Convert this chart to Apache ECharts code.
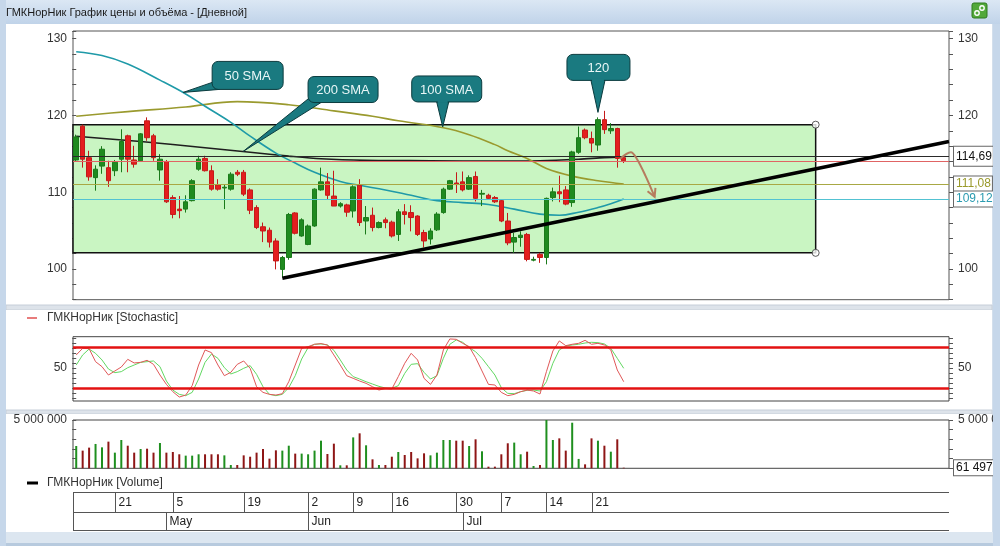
<!DOCTYPE html>
<html>
<head>
<meta charset="utf-8">
<script src="https://cdn.jsdelivr.net/npm/echarts@6/dist/echarts.min.js"></script>
<style>
  html, body { margin: 0; padding: 0; background: #d3dfec; }
  #chart { width: 1000px; height: 546px; }
</style>
</head>
<body>
<div id="chart"></div>
<script>
// ---- price candles (daily) ----
var opens = [114.2,118.6,114.5,111.9,113.4,113.2,112.8,114.3,117.35,114.2,
  114.1,119.3,117.35,112.9,114.0,109.3,107.8,107.8,108.9,113.0,
  114.4,112.8,110.95,110.55,110.4,112.6,112.6,110.3,108.0,105.5,
  105.05,103.65,99.95,101.5,107.3,104.3,103.2,105.6,110.3,111.35,
  109.5,108.2,108.35,107.55,110.9,106.25,107.0,105.4,106.4,106.1,
  104.5,107.45,107.35,106.9,104.75,103.9,105.1,107.35,110.4,111.2,
  111.35,110.4,112.05,109.75,109.6,109.3,108.9,106.25,103.5,104.1,
  104.5,101.15,101.9,101.5,109.3,110.05,110.3,108.65,115.2,118.1,
  117.0,116.15,119.45,118.0,118.3,114.5];
var closes = [117.2,114.3,112.0,113.0,115.6,111.5,113.9,116.6,114.3,113.65,
  117.6,117.1,114.5,114.3,108.75,107.1,107.6,108.75,111.5,114.3,
  112.8,110.4,110.4,110.65,112.35,112.35,109.75,107.65,105.4,104.95,
  103.5,101.05,101.5,107.1,104.65,106.4,105.6,110.4,111.35,109.6,
  108.2,108.5,107.4,110.7,106.05,106.7,105.4,106.05,106.05,104.3,
  107.45,107.1,106.7,104.5,103.65,104.95,107.15,110.4,111.5,111.0,
  110.3,111.9,109.2,109.85,109.2,108.75,106.25,103.4,104.1,104.4,
  101.25,101.25,101.5,109.2,110.05,109.8,108.45,115.25,117.1,117.1,
  116.4,119.45,118.15,118.3,114.4,114.1];
var lows = [114.0,113.2,111.5,110.2,112.4,110.7,112.1,112.6,112.6,113.2,
  114.0,116.7,114.1,111.5,108.6,106.6,106.6,107.35,108.8,112.8,
  112.7,110.2,110.2,107.8,110.2,112.1,109.5,107.15,105.2,103.5,
  102.8,99.95,98.9,101.2,104.5,104.2,103.1,105.5,110.2,109.0,
  108.2,108.0,106.8,106.7,105.6,104.5,104.9,105.3,105.3,104.1,
  103.65,105.8,104.9,104.3,102.8,103.2,104.95,107.2,110.3,109.9,
  110.1,110.3,108.8,108.2,109.1,108.6,106.1,103.1,102.1,102.9,
  101.0,101.0,100.8,100.6,108.8,108.7,108.3,108.1,115.0,116.9,
  115.2,115.4,117.6,117.6,113.2,113.8];
var highs = [117.5,118.8,115.4,113.5,116.0,114.1,114.2,118.2,117.5,116.05,
  117.7,119.75,117.6,114.96,114.2,109.6,109.5,109.6,111.7,114.75,
  114.75,113.5,111.7,111.0,112.6,112.9,112.9,110.5,108.3,106.05,
  105.4,104.0,101.7,107.3,107.4,106.6,105.8,110.5,113.2,112.5,
  112.8,108.7,108.5,110.9,111.7,108.2,108.0,106.2,106.7,106.3,
  107.8,108.45,108.3,107.0,105.1,105.3,107.4,110.6,111.6,112.6,
  112.7,112.2,112.7,110.3,109.8,109.5,109.1,107.3,104.7,104.9,
  104.7,101.6,102.1,109.3,110.6,112.15,110.8,115.4,118.55,118.3,
  117.9,119.75,120.6,119.0,118.4,114.8];

// ---- volume ----
var volumes = [2310000,1830000,2140000,2520000,2170000,2760000,1620000,2930000,2340000,1620000,
  2000000,2030000,1620000,2620000,1620000,1690000,1450000,1310000,1310000,1450000,
  1450000,1450000,1450000,1340000,340000,340000,1340000,1200000,1620000,2000000,
  1000000,1860000,1830000,2340000,1520000,1520000,1450000,1830000,2860000,1480000,
  2550000,310000,310000,3200000,3620000,2380000,930000,340000,340000,1200000,
  1690000,1380000,1690000,1030000,1550000,1340000,1620000,2930000,2930000,2860000,
  2860000,2310000,3000000,1760000,170000,170000,1450000,2590000,2660000,1450000,
  1720000,240000,340000,5000000,2930000,3100000,1830000,4720000,970000,410000,
  3100000,2860000,2340000,1720000,3000000,61497];

// ---- stochastic %K / %D ----
var stochK = [69.3,79.0,78.5,59.5,52.2,40.0,45.9,51.7,62.9,57.6,
  58.5,61.5,55.6,40.0,26.3,15.6,7.8,10.7,24.4,54.6,
  76.6,72.7,54.6,39.0,43.9,55.6,60.5,49.8,22.9,14.6,
  11.7,10.7,12.7,30.2,54.6,79.0,81.5,84.9,85.9,83.9,
  69.3,54.6,39.0,35.1,31.2,27.8,22.9,18.0,20.5,19.5,
  37.6,57.1,71.7,62.0,35.1,26.3,40.0,76.6,92.7,92.2,
  86.3,81.5,65.4,45.9,26.3,25.4,14.6,9.8,11.7,15.6,
  18.0,16.6,12.2,44.9,75.1,89.8,82.9,84.9,86.3,90.7,
  84.9,86.3,83.9,76.6,47.3,30.2];
var stochD = [54.6,69.3,78.0,71.7,62.0,48.8,43.4,44.9,50.7,54.6,
  58.5,59.5,60.5,52.2,31.2,18.0,11.7,9.8,14.6,34.1,
  58.5,70.7,64.4,50.7,41.5,44.9,49.8,53.7,41.0,22.9,
  11.7,9.8,11.7,21.5,39.0,63.4,80.0,84.9,85.4,83.9,
  76.1,62.0,47.3,37.6,34.1,30.2,26.8,23.4,21.0,20.5,
  24.4,42.4,55.6,56.6,43.9,34.1,39.0,64.4,84.9,91.2,
  87.8,80.0,74.1,64.4,52.2,40.0,21.5,13.2,12.7,15.6,
  17.6,18.0,16.6,30.2,57.1,76.6,82.4,83.9,84.9,86.8,
  87.8,87.3,85.4,79.0,64.4,49.8];

// ---- moving averages, [candle index, value] ----
var sma50 = [[0,128.3],[4,127.8],[8,126.7],[13,124.6],[17,122.8],[20,121.2],[24,119.1],
  [27,117.3],[31,115.1],[34,113.8],[37,112.6],[41,111.4],[44,110.9],[48,110.3],[52,109.6],
  [56,108.9],[60,108.65],[64,108.4],[68,107.8],[72,107.15],[75,107.0],[78,107.4],[81,108.0],
  [83,108.5],[85,109.12]];
var sma100 = [[0,119.9],[8,120.5],[17,121.1],[25,121.8],[33,121.4],[40,120.6],[46,119.9],
  [50,119.3],[57,118.4],[61,117.5],[65,116.2],[67,115.4],[70,114.4],[73,113.1],[77,112.1],
  [81,111.5],[85,111.08]];
var sma200 = [[0,117.3],[10,116.6],[20,115.8],[27,115.2],[33,114.7],[38,114.35],[45,114.15],
  [55,114.1],[65,114.05],[72,114.1],[78,114.3],[82,114.5],[85,114.6]];

// ---- time scale labels ----
var dayIdx = [6,15,26,36,43,49,59,66,73,80];
var dayLabels = ['21','5','19','2','9','16','30','7','14','21'];
var monthIdx = [14,36,60];
var monthLabels = ['May','Jun','Jul'];

// ---- drawn annotations ----
var levelValues = [114.69, 114.05, 111.08, 109.12];
var levelTexts = ['114,69', '', '111,08', '109,12'];
var levelColors = ['#2a2a2a', '#e06464', '#a8a844', '#52c2d2'];
var levelTextColors = ['#111', '', '#9a9a2a', '#2b9bb0'];
var rectTop = 118.8, rectBottom = 102.1, rectRight = 114.8;
var trendStart = [32, 98.8], trendEnd = [135.5, 116.6];
var arrowPath = [[84.4,114.33],[86.1,115.2],[87.0,114.4],[88.4,112.1],[89.8,109.4]];
var callouts = [
  { text: '50 SMA',  at: [16.6, 123.0], box: [29, -31, 71, 28], tail: [[0, 21], [7, 28]] },
  { text: '200 SMA', at: [25.9, 115.3], box: [65, -75, 70, 26], tail: [[3, 20], [13, 26]] },
  { text: '100 SMA', at: [56.9, 118.5], box: [-31, -51, 70, 26], tail: [[25, 26], [37, 26]] },
  { text: '120',     at: [81, 120.4],   box: [-31, -58, 63, 26], tail: [[24, 26], [38, 26]] }
];

var FONT = 'Liberation Sans';
var candleData = opens.map(function (o, i) { return [i, o, closes[i], lows[i], highs[i]]; });
var volData = volumes.map(function (v, i) {
  return { value: [i, v], itemStyle: { color: closes[i] >= opens[i] ? '#1f8f1f' : '#8e1616' } };
});

function xAx(g) {
  return { type: 'value', gridIndex: g, min: -0.5, max: 135.5, show: false };
}
function yAx(g, pos, cfg) {
  var a = {
    type: 'value', gridIndex: g, position: pos, min: cfg.min, max: cfg.max,
    axisLine: { show: false },
    axisTick: { show: true, length: 4, lineStyle: { color: '#555' } },
    axisLabel: { margin: pos === 'left' ? 6 : 9, color: '#333', fontSize: 12, fontFamily: FONT,
      formatter: cfg.fmt },
    splitLine: { show: false }
  };
  if (cfg.interval) a.interval = cfg.interval;
  if (cfg.ticks) { a.axisTick.customValues = cfg.ticks; a.axisLabel.customValues = cfg.labels; }
  return a;
}
var mainY = { min: 96, max: 131, interval: 2, fmt: function (v) { return v % 10 === 0 ? String(v) : ''; } };
var stochY = { min: 2, max: 96, ticks: [6,13,21,28,35,43,50,57,65,72,79,86,94], labels: [50],
  fmt: function (v) { return v === 50 ? '50' : ''; } };
var volY = { min: 0, max: 5000000, interval: 1000000,
  fmt: function (v) { return v === 5000000 ? '5 000 000' : ''; } };

var boxLabel = {
  show: true, position: 'end', distance: 5, fontSize: 12, fontFamily: FONT,
  backgroundColor: '#fff', borderColor: '#666', borderWidth: 1, padding: [2, 1, 1, 2]
};
var levelLines = levelValues.map(function (v, i) {
  return {
    yAxis: v,
    lineStyle: { color: levelColors[i], width: 1, type: 'solid' },
    label: levelTexts[i] ? Object.assign({}, boxLabel, {
      formatter: levelTexts[i], color: levelTextColors[i],
      padding: i === 0 ? [4, 1, 3, 2] : [2, 1, 1, 2]
    }) : { show: false }
  };
});

var gridBase = { left: 73, width: 876, show: true, borderWidth: 1, outerBoundsMode: 'none', containLabel: false };
var option = {
  animation: false,
  backgroundColor: '#d3dfec',
  grid: [
    Object.assign({}, gridBase, { top: 31, height: 268.7, borderColor: '#555' }),
    Object.assign({}, gridBase, { top: 336.7, height: 64.3, borderColor: '#444' }),
    Object.assign({}, gridBase, { top: 420, height: 48.3, borderColor: '#444' })
  ],
  xAxis: [xAx(0), xAx(1), xAx(2)],
  yAxis: [yAx(0, 'left', mainY), yAx(0, 'right', mainY),
          yAx(1, 'left', stochY), yAx(1, 'right', stochY),
          yAx(2, 'left', volY), yAx(2, 'right', volY)],
  series: [
    {
      type: 'line', xAxisIndex: 0, yAxisIndex: 0, data: [], z: 1, silent: true,
      markArea: {
        silent: true,
        itemStyle: { color: '#c9f5c2', borderColor: '#111', borderWidth: 1.5 },
        data: [[{ coord: [-0.5, rectTop] }, { coord: [rectRight, rectBottom] }]]
      },
      markLine: { silent: true, symbol: ['none', 'none'], data: levelLines }
    },
    { type: 'line', xAxisIndex: 0, yAxisIndex: 0, data: sma200, smooth: 0.3, showSymbol: false, z: 2,
      lineStyle: { color: '#1e1e1e', width: 1.6 } },
    { type: 'line', xAxisIndex: 0, yAxisIndex: 0, data: sma100, smooth: 0.4, showSymbol: false, z: 2,
      lineStyle: { color: '#9a9a2e', width: 1.6 } },
    { type: 'line', xAxisIndex: 0, yAxisIndex: 0, data: sma50, smooth: 0.4, showSymbol: false, z: 2,
      lineStyle: { color: '#1f9aa8', width: 1.6 } },
    {
      type: 'candlestick', xAxisIndex: 0, yAxisIndex: 0, data: candleData, z: 3,
      encode: { x: 0, y: [1, 2, 3, 4] }, barWidth: 5,
      itemStyle: { color: '#1f8a1f', color0: '#e41e1e', borderColor: '#1a7a1a', borderColor0: '#c41a1a', borderWidth: 1 }
    },
    {
      type: 'line', xAxisIndex: 0, yAxisIndex: 0, data: [], z: 4, silent: true,
      markLine: {
        silent: true, symbol: ['none', 'none'], label: { show: false },
        lineStyle: { color: '#000', width: 3.5, type: 'solid' },
        data: [[{ coord: trendStart }, { coord: trendEnd }]]
      }
    },
    {
      type: 'scatter', xAxisIndex: 0, yAxisIndex: 0, z: 6, symbolSize: 7, silent: true,
      data: [[rectRight, rectTop], [rectRight, rectBottom]],
      itemStyle: { color: '#fff', borderColor: '#333', borderWidth: 1 }
    },
    { type: 'line', xAxisIndex: 1, yAxisIndex: 2, showSymbol: false, z: 2,
      data: stochD.map(function (v, i) { return [i, v]; }),
      lineStyle: { color: '#62d862', width: 1 } },
    { type: 'line', xAxisIndex: 1, yAxisIndex: 2, showSymbol: false, z: 3,
      data: stochK.map(function (v, i) { return [i, v]; }),
      lineStyle: { color: '#e05858', width: 1 },
      markLine: { silent: true, symbol: ['none', 'none'], label: { show: false },
        lineStyle: { color: '#e31212', width: 2.5, type: 'solid' },
        data: [{ yAxis: 80 }, { yAxis: 20 }] } },
    { type: 'bar', xAxisIndex: 2, yAxisIndex: 4, data: volData, barWidth: 2, z: 2,
      markLine: { silent: true, symbol: ['none', 'none'],
        data: [{ yAxis: volumes[volumes.length - 1],
          lineStyle: { color: 'rgba(0,0,0,0)', width: 1 },
          label: Object.assign({}, boxLabel, { formatter: '61 497', color: '#111' }) }] } }
  ]
};

var chart = echarts.init(document.getElementById('chart'));
chart.setOption(option);

function P(g, x, y) { return chart.convertToPixel({ gridIndex: g }, [x, y]); }

var gr = [];
// window chrome
gr.push({ type: 'rect', z: -20, shape: { x: 0, y: 0, width: 1000, height: 24 },
  style: { fill: { type: 'linear', x: 0, y: 0, x2: 0, y2: 1,
    colorStops: [{ offset: 0, color: '#dbe7f4' }, { offset: 1, color: '#c0d3e9' }] } } });
gr.push({ type: 'text', z: 10, style: { x: 6, y: 13, text: 'ГМКНорНик График цены и объёма - [Дневной]',
  fill: '#1a1a1a', font: '11px "Liberation Sans"', verticalAlign: 'middle' } });
gr.push({ type: 'rect', z: 10, shape: { x: 972, y: 3, width: 15, height: 15, r: 2 },
  style: { fill: '#52a83a', stroke: '#2e7a1f', lineWidth: 1 } });
gr.push({ type: 'circle', z: 11, shape: { cx: 977, cy: 13, r: 2.2 }, style: { fill: 'none', stroke: '#fff', lineWidth: 1.4 } });
gr.push({ type: 'circle', z: 11, shape: { cx: 982, cy: 8, r: 2.2 }, style: { fill: 'none', stroke: '#fff', lineWidth: 1.4 } });
gr.push({ type: 'rect', z: -20, shape: { x: 6, y: 24, width: 986, height: 281 }, style: { fill: '#fff' } });
gr.push({ type: 'rect', z: -20, shape: { x: 6, y: 305, width: 986, height: 5 }, style: { fill: '#dde3ea', stroke: '#c6ced8', lineWidth: 1 } });
gr.push({ type: 'rect', z: -20, shape: { x: 6, y: 310, width: 986, height: 100 }, style: { fill: '#fff' } });
gr.push({ type: 'rect', z: -20, shape: { x: 6, y: 410, width: 986, height: 4 }, style: { fill: '#dde3ea', stroke: '#c6ced8', lineWidth: 1 } });
gr.push({ type: 'rect', z: -20, shape: { x: 6, y: 414, width: 986, height: 118 }, style: { fill: '#fff' } });
gr.push({ type: 'rect', z: -20, shape: { x: 0, y: 532, width: 1000, height: 14 }, style: { fill: '#dce6f0' } });
gr.push({ type: 'rect', z: -20, shape: { x: 0, y: 543, width: 1000, height: 3 }, style: { fill: '#b7cade' } });
gr.push({ type: 'rect', z: -20, shape: { x: 0, y: 0, width: 6, height: 546 }, style: { fill: '#c6d7ea' } });
gr.push({ type: 'rect', z: 100, shape: { x: 993, y: 24, width: 7, height: 522 }, style: { fill: '#c6d7ea' } });

// legends
gr.push({ type: 'line', z: 10, shape: { x1: 27, y1: 318, x2: 37, y2: 318 }, style: { stroke: '#e05050', lineWidth: 1.5 } });
gr.push({ type: 'text', z: 10, style: { x: 47, y: 318, text: 'ГМКНорНик [Stochastic]', fill: '#333',
  font: '12px "Liberation Sans"', verticalAlign: 'middle' } });
gr.push({ type: 'line', z: 10, shape: { x1: 27, y1: 483, x2: 38, y2: 483 }, style: { stroke: '#000', lineWidth: 3 } });
gr.push({ type: 'text', z: 10, style: { x: 47, y: 483, text: 'ГМКНорНик [Volume]', fill: '#333',
  font: '12px "Liberation Sans"', verticalAlign: 'middle' } });

// date table under the volume pane
var tLeft = P(2, -0.5, 0)[0], tRight = P(2, 135.5, 0)[0];
var tTop = 492, tMid = 512, tBot = 530;
[tTop, tMid, tBot].forEach(function (y) {
  gr.push({ type: 'line', z: 10, shape: { x1: tLeft, y1: y + 0.5, x2: tRight, y2: y + 0.5 }, style: { stroke: '#555', lineWidth: 1 } });
});
gr.push({ type: 'line', z: 10, shape: { x1: tLeft + 0.5, y1: tTop, x2: tLeft + 0.5, y2: tBot }, style: { stroke: '#555', lineWidth: 1 } });
dayIdx.forEach(function (k, i) {
  var x = Math.round(P(2, k, 0)[0]) + 0.5;
  gr.push({ type: 'line', z: 10, shape: { x1: x, y1: tTop, x2: x, y2: tMid }, style: { stroke: '#555', lineWidth: 1 } });
  gr.push({ type: 'text', z: 10, style: { x: x + 3, y: (tTop + tMid) / 2 + 1, text: dayLabels[i], fill: '#222',
    font: '12px "Liberation Sans"', verticalAlign: 'middle' } });
});
monthIdx.forEach(function (k, i) {
  var x = Math.round(P(2, k, 0)[0]) + 0.5;
  gr.push({ type: 'line', z: 10, shape: { x1: x, y1: tMid, x2: x, y2: tBot }, style: { stroke: '#555', lineWidth: 1 } });
  gr.push({ type: 'text', z: 10, style: { x: x + 3, y: (tMid + tBot) / 2 + 1, text: monthLabels[i], fill: '#222',
    font: '12px "Liberation Sans"', verticalAlign: 'middle' } });
});

// callouts
callouts.forEach(function (c) {
  var tip = P(0, c.at[0], c.at[1]);
  var bx = tip[0] + c.box[0], by = tip[1] + c.box[1];
  gr.push({ type: 'polygon', z: 50, shape: { points: [[bx + c.tail[0][0], by + c.tail[0][1]], tip, [bx + c.tail[1][0], by + c.tail[1][1]]] },
    style: { fill: '#1a7a80', stroke: '#0b3b3e', lineWidth: 1 } });
  gr.push({ type: 'rect', z: 51, shape: { x: bx, y: by, width: c.box[2], height: c.box[3], r: 6 },
    style: { fill: '#1a7a80', stroke: '#0b3b3e', lineWidth: 1 } });
  if (c.tail[0][1] === c.box[3]) {
    gr.push({ type: 'rect', z: 52, shape: { x: bx + c.tail[0][0] + 1, y: by + c.box[3] - 2, width: c.tail[1][0] - c.tail[0][0] - 2, height: 3 },
      style: { fill: '#1a7a80' } });
  }
  gr.push({ type: 'text', z: 53, style: { x: bx + c.box[2] / 2, y: by + c.box[3] / 2 + 1, text: c.text,
    fill: '#e9f6f6', font: '13px "Liberation Sans"', align: 'center', verticalAlign: 'middle' } });
});

// curved brown arrow
var ap = arrowPath.map(function (p) { return P(0, p[0], p[1]); });
gr.push({ type: 'polyline', z: 40, shape: { points: ap, smooth: 0.35 }, style: { stroke: '#b67c5e', lineWidth: 2, fill: null } });
var e = ap[ap.length - 1], s = ap[ap.length - 2];
var ang = Math.atan2(e[1] - s[1], e[0] - s[0]);
var hl = 9;
gr.push({ type: 'polyline', z: 40, shape: { points: [
  [e[0] - hl * Math.cos(ang - 0.5), e[1] - hl * Math.sin(ang - 0.5)], e,
  [e[0] - hl * Math.cos(ang + 0.5), e[1] - hl * Math.sin(ang + 0.5)]] },
  style: { stroke: '#b67c5e', lineWidth: 2, fill: null } });

chart.setOption({ graphic: gr });
</script>
</body>
</html>
